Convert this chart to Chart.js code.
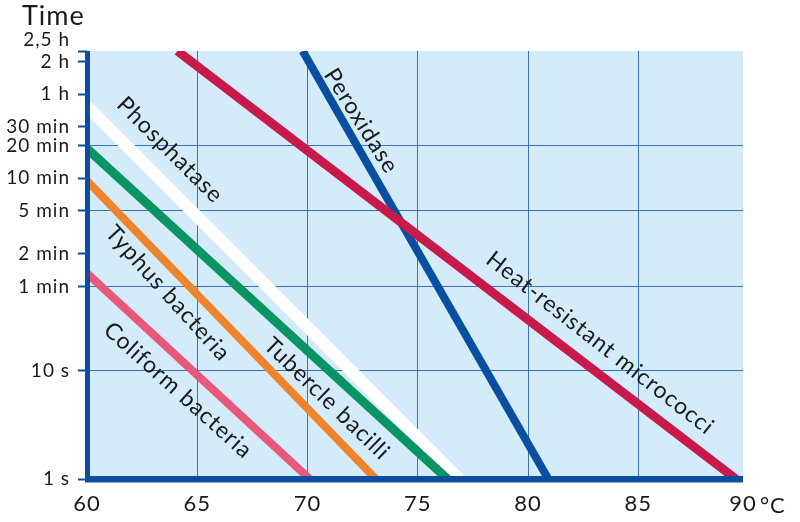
<!DOCTYPE html>
<html>
<head>
<meta charset="utf-8">
<title>Lethal effect curves</title>
<script src="https://cdn.jsdelivr.net/npm/chart.js@4.4.1/dist/chart.umd.min.js"></script>
<style>
    html, body { margin: 0; padding: 0; background: #ffffff; }
    #wrap { width: 800px; height: 522px; position: relative; }
</style>
</head>
<body>
<div id="wrap"><canvas id="lethal-chart"></canvas></div>
<script>
// Temperature (°C) / holding time (seconds) where each curve enters and leaves the plot
const micrococciTemp = [64.1, 89.43];
const micrococciTime = [9000, 1];
const peroxidaseTemp = [69.78, 80.92];
const peroxidaseTime = [9000, 1];
const coliformTemp = [60, 70.1];
const coliformTime = [79.5, 1];
const typhusTemp = [60, 73.1];
const typhusTime = [570, 1];
const tubercleTemp = [60, 76.35];
const tubercleTime = [1130, 1];
const phosphataseTemp = [60, 76.88];
const phosphataseTime = [2790, 1];

// Axis ticks
const xTicks = [60, 65, 70, 75, 80, 85, 89.75];
const xTickLabels = ['60', '65', '70', '75', '80', '85', '90'];
const yTicks = [1, 10, 60, 120, 300, 600, 1200, 1800, 3600, 7200, 9000];
const yTickLabels = ['1 s', '10 s', '1 min', '2 min', '5 min', '10 min', '20 min', '30 min', '1 h', '2 h', '2,5 h'];
const yGridValues = [10, 60, 300, 1200];

const AXIS_COLOR = '#0d4d9e';
const GRID_COLOR = '#3a72b8';
const PLOT_BG = '#d4ecf9';
const FONT = 'Lato, "Open Sans", sans-serif';

// Curve labels: text, anchor (temp, seconds), rotation in degrees
const curveLabels = [
    { text: 'Phosphatase', t: 63.76, s: 1094, angle: 45 },
    { text: 'Typhus bacteria', t: 63.67, s: 52, angle: 48 },
    { text: 'Coliform bacteria', t: 64.13, s: 6.6, angle: 42 },
    { text: 'Tubercle bacilli', t: 70.88, s: 5.5, angle: 44 },
    { text: 'Peroxidase', t: 72.43, s: 2028, angle: 58 },
    { text: 'Heat-resistant micrococci', t: 83.27, s: 18, angle: 38 }
];

function toPoints(temps, times) {
    return temps.map((t, i) => ({ x: t, y: times[i] }));
}

function curve(label, temps, times, color, width) {
    return {
        label: label,
        data: toPoints(temps, times),
        borderColor: color,
        borderWidth: width,
        pointRadius: 0,
        tension: 0,
        fill: false,
        borderCapStyle: 'butt'
    };
}

/**
 * Plot background, axis lines and free text
 */
const decorPlugin = {
    id: 'decor',
    beforeDraw(chart) {
        const { ctx, chartArea: a } = chart;
        // slightly open letter spacing for all the text
        ctx.letterSpacing = '1px';
        ctx.save();
        ctx.fillStyle = PLOT_BG;
        ctx.fillRect(a.left, a.top, a.right - a.left, a.bottom - a.top);
        ctx.restore();
    },
    afterDatasetsDraw(chart) {
        const { ctx, chartArea: a, scales } = chart;
        ctx.save();

        // axis lines on top of the curves
        ctx.strokeStyle = AXIS_COLOR;
        ctx.lineWidth = 5;
        ctx.beginPath();
        ctx.moveTo(a.left + 0.5, a.top);
        ctx.lineTo(a.left + 0.5, a.bottom + 3);
        ctx.stroke();
        ctx.lineWidth = 6.5;
        ctx.beginPath();
        ctx.moveTo(a.left - 2, a.bottom + 0.3);
        ctx.lineTo(a.right, a.bottom + 0.3);
        ctx.stroke();

        // curve labels
        ctx.fillStyle = '#1a1a1a';
        ctx.font = '23px ' + FONT;
        ctx.textAlign = 'center';
        ctx.textBaseline = 'middle';
        curveLabels.forEach(l => {
            const px = scales.x.getPixelForValue(l.t);
            const py = scales.y.getPixelForValue(l.s);
            ctx.save();
            ctx.translate(px, py);
            ctx.rotate(l.angle * Math.PI / 180);
            ctx.fillText(l.text, 0, 0);
            ctx.restore();
        });

        // axis titles
        ctx.textAlign = 'left';
        ctx.textBaseline = 'alphabetic';
        ctx.font = '27px ' + FONT;
        ctx.fillText('Time', 22, 25);
        ctx.font = '22px ' + FONT;
        ctx.fillText('°C', 760, 513);
        ctx.restore();
    }
};

const ctx = document.getElementById('lethal-chart').getContext('2d');

const lethalChart = new Chart(ctx, {
    type: 'line',
    data: {
        datasets: [
            curve('Heat-resistant micrococci', micrococciTemp, micrococciTime, '#c8194b', 9),
            curve('Peroxidase', peroxidaseTemp, peroxidaseTime, '#0a4f9f', 8),
            curve('Coliform bacteria', coliformTemp, coliformTime, '#e8587a', 8),
            curve('Typhus bacteria', typhusTemp, typhusTime, '#f0842c', 8),
            curve('Tubercle bacilli', tubercleTemp, tubercleTime, '#0a9464', 9),
            curve('Phosphatase', phosphataseTemp, phosphataseTime, '#ffffff', 12)
        ]
    },
    options: {
        responsive: true,
        maintainAspectRatio: false,
        animation: false,
        layout: {
            padding: { left: 0, top: 51, right: 57, bottom: 0 }
        },
        plugins: {
            legend: { display: false },
            tooltip: { enabled: false }
        },
        scales: {
            x: {
                type: 'linear',
                min: 60,
                max: 89.75,
                afterBuildTicks: scale => {
                    scale.ticks = xTicks.map(v => ({ value: v }));
                },
                afterFit: scale => { scale.height = 43; },
                border: { display: false },
                grid: {
                    color: c => (c.tick && c.tick.value > 60 && c.tick.value < 89) ? GRID_COLOR : 'rgba(0,0,0,0)',
                    lineWidth: 1,
                    drawTicks: false
                },
                ticks: {
                    autoSkip: false,
                    maxRotation: 0,
                    padding: 12,
                    color: '#1a1a1a',
                    font: { family: FONT, size: 22 },
                    callback: (value) => {
                        const i = xTicks.indexOf(value);
                        return i >= 0 ? xTickLabels[i] : '';
                    }
                }
            },
            y: {
                type: 'logarithmic',
                min: 1,
                max: 9000,
                afterBuildTicks: scale => {
                    scale.ticks = yTicks.map(v => ({ value: v }));
                },
                afterFit: scale => { scale.width = 87; },
                border: { display: false },
                grid: {
                    color: c => (c.tick && yGridValues.includes(c.tick.value)) ? GRID_COLOR : 'rgba(0,0,0,0)',
                    lineWidth: 1,
                    drawTicks: true,
                    tickLength: 9,
                    tickColor: AXIS_COLOR,
                    tickWidth: 2
                },
                ticks: {
                    autoSkip: false,
                    padding: 8,
                    color: '#1a1a1a',
                    font: { family: FONT, size: 19 },
                    callback: (value) => {
                        const i = yTicks.indexOf(value);
                        if (i < 0) return '';
                        // top label sits a little above its tick
                        return value === 9000 ? [yTickLabels[i], ''] : yTickLabels[i];
                    }
                }
            }
        }
    },
    plugins: [decorPlugin]
});
</script>
</body>
</html>
